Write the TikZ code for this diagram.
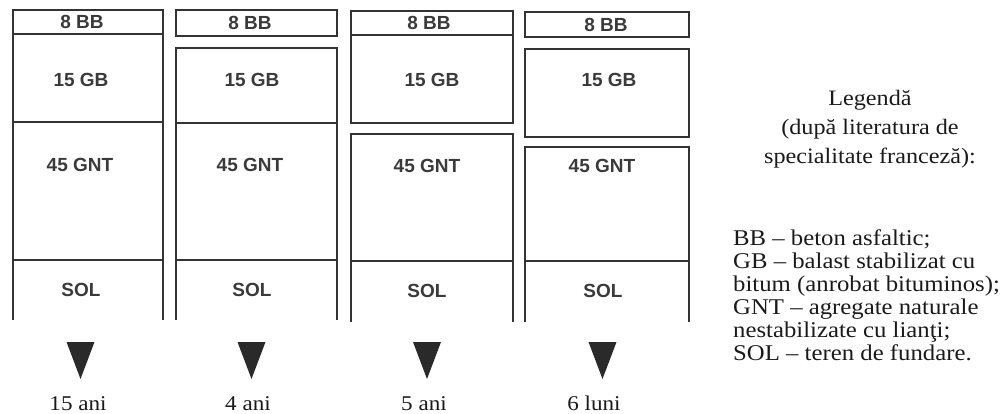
\documentclass[tikz,border=0pt]{standalone}
\usepackage{fontspec}
\setmainfont{Liberation Serif}
\newfontfamily\arialf{Liberation Sans}
\newcommand\widetx[1]{\scalebox{1.1}[1]{#1}}
\definecolor{ln}{HTML}{333333}
\definecolor{lbc}{HTML}{3A3A3A}
\definecolor{tric}{HTML}{2A2A2A}
\definecolor{txt}{HTML}{1A1A1A}
\begin{document}
\begin{tikzpicture}[x=1pt,y=-1pt,
  layer/.style={draw=ln, line width=2pt, inner sep=0pt, outer sep=0pt},
  lbl/.style={text=lbc, font=\arialf\bfseries\fontsize{19}{19}\selectfont, inner sep=0pt},
  side/.style={draw=ln, line width=2pt},
  tri/.style={fill=tric},
  yrs/.style={text=txt, font=\fontsize{21}{21}\selectfont, inner sep=0pt, anchor=base},
  leg/.style={text=txt, font=\fontsize{22.5}{23}\selectfont, inner sep=0pt, align=left, anchor=north west},
  head/.style={text=txt, font=\fontsize{22}{29}\selectfont, inner sep=0pt, align=center, anchor=north}]
\useasboundingbox (0,0) rectangle (1006,414);

% column 1 : 15 ani
\node[layer, minimum width=150pt, minimum height=24pt]  (bb1)  at (88,22)   {};
\node[layer, minimum width=150pt, minimum height=88pt]  (gb1)  at (88,78)   {};
\node[layer, minimum width=150pt, minimum height=138pt] (gnt1) at (88,191)  {};
\node[lbl] (lbb1)  at (82,22)  {8 BB};
\node[lbl] (lgb1)  at (81,80)  {15 GB};
\node[lbl] (lgnt1) at (80,165) {45 GNT};
\node[lbl] (lsol1) at (81,290) {SOL};
\coordinate (s1l) at (13,320);
\coordinate (s1r) at (163,320);
\draw[side] (gnt1.south west) -- (s1l);
\draw[side] (gnt1.south east) -- (s1r);

% column 2 : 4 ani
\node[layer, minimum width=161pt, minimum height=26pt]  (bb2)  at (256.5,23)   {};
\node[layer, minimum width=161pt, minimum height=75pt]  (gb2)  at (256.5,85.5)  {};
\node[layer, minimum width=161pt, minimum height=137pt] (gnt2) at (256.5,191.5) {};
\node[lbl] (lbb2)  at (250,23)  {8 BB};
\node[lbl] (lgb2)  at (252,80)  {15 GB};
\node[lbl] (lgnt2) at (250,165) {45 GNT};
\node[lbl] (lsol2) at (252,290) {SOL};
\coordinate (s2l) at (176,320);
\coordinate (s2r) at (337,320);
\draw[side] (gnt2.south west) -- (s2l);
\draw[side] (gnt2.south east) -- (s2r);

% column 3 : 5 ani
\node[layer, minimum width=162pt, minimum height=24pt]  (bb3)  at (432,23)    {};
\node[layer, minimum width=162pt, minimum height=88pt]  (gb3)  at (432,79)    {};
\node[layer, minimum width=162pt, minimum height=127pt] (gnt3) at (432,197.5) {};
\node[lbl] (lbb3)  at (429,23)  {8 BB};
\node[lbl] (lgb3)  at (432,80)  {15 GB};
\node[lbl] (lgnt3) at (427,166) {45 GNT};
\node[lbl] (lsol3) at (427,291) {SOL};
\coordinate (s3l) at (351,322);
\coordinate (s3r) at (513,322);
\draw[side] (gnt3.south west) -- (s3l);
\draw[side] (gnt3.south east) -- (s3r);

% column 4 : 6 luni
\node[layer, minimum width=164pt, minimum height=25pt]  (bb4)  at (607,24.5) {};
\node[layer, minimum width=164pt, minimum height=88pt]  (gb4)  at (607,93)   {};
\node[layer, minimum width=164pt, minimum height=114pt] (gnt4) at (607,204)  {};
\node[lbl] (lbb4)  at (606,24.5) {8 BB};
\node[lbl] (lgb4)  at (609,80)   {15 GB};
\node[lbl] (lgnt4) at (602,166)  {45 GNT};
\node[lbl] (lsol4) at (603,291)  {SOL};
\coordinate (s4l) at (525,322);
\coordinate (s4r) at (689,322);
\draw[side] (gnt4.south west) -- (s4l);
\draw[side] (gnt4.south east) -- (s4r);

% triangles
\coordinate (t1) at (80.5,342);
\coordinate (t2) at (251.5,342);
\coordinate (t3) at (427,342);
\coordinate (t4) at (602.5,342);
\foreach \t in {t1,t2,t3,t4}
  \fill[tri] (\t) ++(-14,0) -- ++(28,0) -- ++(-14,37) -- cycle;

% durations
\node[yrs] (y1) at (78,410)  {\widetx{15 ani}};
\node[yrs] (y2) at (248,410) {\widetx{4 ani}};
\node[yrs] (y3) at (424,410) {\widetx{5 ani}};
\node[yrs] (y4) at (594,410) {\widetx{6 luni}};

% legend
\node[head] (hd) at (870,90) {\widetx{Legendă}\\\widetx{(după literatura de}\\\widetx{specialitate franceză):}};
\node[leg] (lg) at (733,229) {\widetx{BB – beton asfaltic;}\\\widetx{GB – balast stabilizat cu}\\\widetx{bitum (anrobat bituminos);}\\\widetx{GNT – agregate naturale}\\\widetx{nestabilizate cu lianţi;}\\\widetx{SOL – teren de fundare.}};
\end{tikzpicture}
\end{document}
